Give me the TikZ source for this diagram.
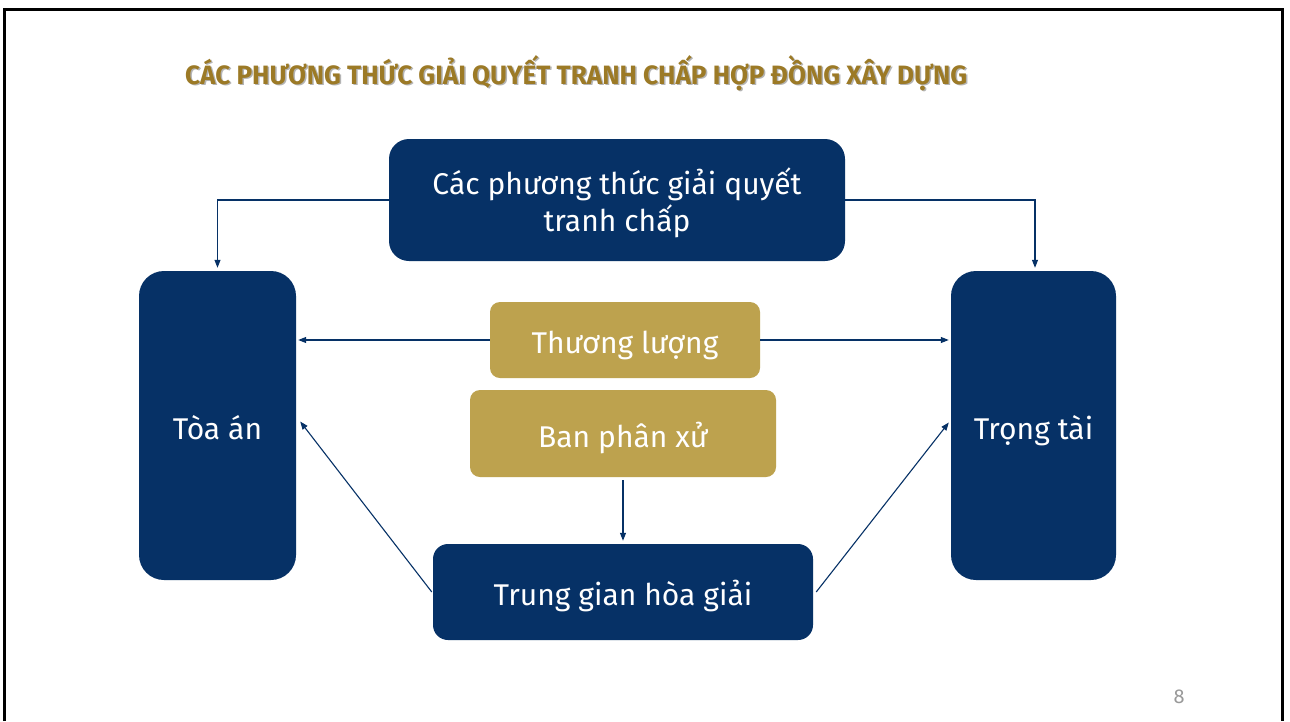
\documentclass[tikz,border=0pt]{standalone}
\usepackage{fontspec}
\setmainfont{Fira Sans}
\usepackage{graphicx}
\usetikzlibrary{arrows.meta}
\definecolor{navy}{RGB}{6,49,102}
\definecolor{goldbox}{RGB}{189,162,78}
\definecolor{titlegold}{RGB}{156,122,38}
\definecolor{shadowgray}{RGB}{180,180,180}
\tikzset{
  navybox/.style={fill=navy, text=white, rounded corners=#1, align=center, font=\fontsize{30}{37}\selectfont, inner sep=0pt, text height=27pt, text depth=0pt},
  goldbx/.style={fill=goldbox, text=white, rounded corners=#1, align=center, font=\fontsize{30}{37}\selectfont, inner sep=0pt, text height=27pt, text depth=0pt},
  conn/.style={draw=navy, line width=1.1pt, -{Triangle[length=8pt,width=6pt]}},
}
\begin{document}
\begin{tikzpicture}[x=1pt,y=-1pt]
\useasboundingbox[fill=white] (0,0) rectangle (1290,721);
\draw[line width=3pt, black] (4,721) -- (4,9) -- (1282,9) -- (1282,721);
% title
\node[anchor=base west, inner sep=0pt, text=shadowgray, font=\fontsize{26.5}{30}\bfseries\selectfont] (titleshadow) at (186.5,85.5) {\resizebox{782pt}{\height}{CÁC PHƯƠNG THỨC GIẢI QUYẾT TRANH CHẤP HỢP ĐỒNG XÂY DỰNG}};
\node[anchor=base west, inner sep=0pt, text=titlegold, font=\fontsize{26.5}{30}\bfseries\selectfont] (title) at (185,84) {\resizebox{782pt}{\height}{CÁC PHƯƠNG THỨC GIẢI QUYẾT TRANH CHẤP HỢP ĐỒNG XÂY DỰNG}};
% boxes
\node[fill=navy, rounded corners=20pt, minimum width=456pt, minimum height=122pt, inner sep=0pt] (top) at (617,200) {};
\node[text=white, align=center, font=\fontsize{30}{37}\selectfont, inner sep=0pt] (toptext) at (617,203) {Các phương thức giải quyết\\tranh chấp};
\node[navybox=25pt, minimum width=157pt, minimum height=309pt] (toa) at (217.5,425.5) {Tòa án};
\node[navybox=25pt, minimum width=165pt, minimum height=309pt] (trong) at (1033.5,425.5) {Trọng tài};
\node[goldbx=10pt, minimum width=270pt, minimum height=76pt] (thuong) at (625,340) {Thương lượng};
\node[goldbx=10pt, minimum width=306pt, minimum height=87pt] (ban) at (623,433.5) {Ban phân xử};
\node[navybox=15pt, minimum width=380pt, minimum height=96pt] (trung) at (623,592) {Trung gian hòa giải};
% page number
\node[text=gray!80, font=\fontsize{20}{22}\selectfont, inner sep=0pt] (pagenum) at (1179,697) {8};
% connectors
\draw[conn, shorten >=3pt] (top.west) -| (toa.north);
\draw[conn, shorten >=3pt] ([xshift=-1pt]top.east) -| ([xshift=1.5pt]trong.north);
\draw[conn, shorten >=2pt] (thuong.west) -- (toa.east |- thuong.west);
\draw[conn, shorten >=2pt] (thuong.east) -- (trong.west |- thuong.east);
\draw[conn, shorten >=3pt, shorten <=3pt] (ban.south) -- (trung.north);
\draw[conn] ([xshift=-1pt]trung.west) -- ([xshift=4pt,yshift=4pt]toa.east);
\draw[conn] ([xshift=3pt]trung.east) -- ([xshift=-2pt,yshift=3pt]trong.west);
\end{tikzpicture}
\end{document}
